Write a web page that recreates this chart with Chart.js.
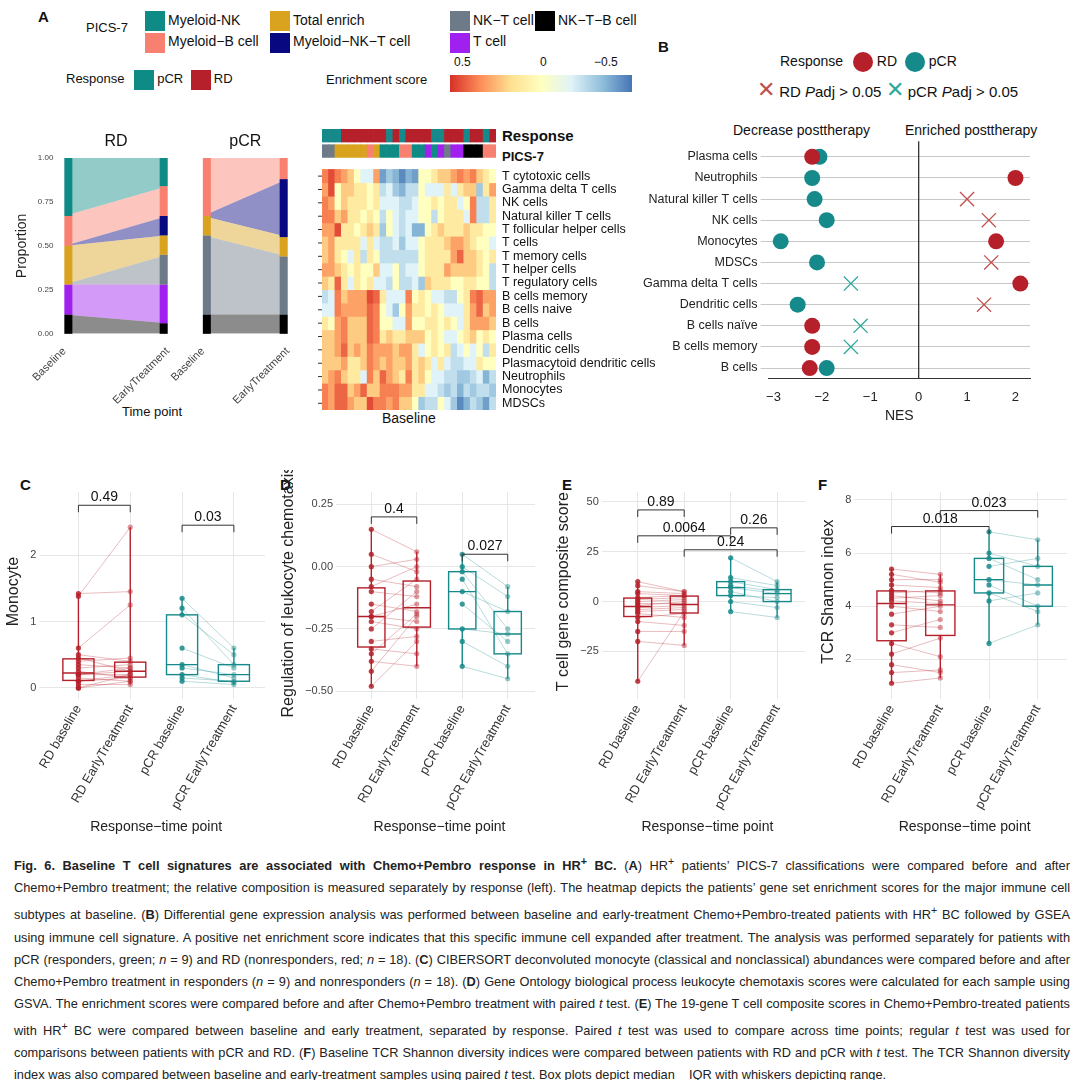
<!DOCTYPE html>
<html><head><meta charset="utf-8">
<script src="https://cdn.jsdelivr.net/npm/chart.js@4"></script>
<style>
body{margin:0;width:1080px;height:1080px;background:#fff;font-family:"Liberation Sans",Arial,sans-serif;position:relative;overflow:hidden}
.c{position:absolute}
.t{position:absolute;white-space:nowrap;color:#111}
.sw{display:inline-block;width:20px;height:20px;vertical-align:middle;margin-right:3px}
.dot{display:inline-block;width:20px;height:20px;border-radius:50%;vertical-align:middle}
#cap{position:absolute;left:14px;top:850px;width:1056px;font-size:12.8px;line-height:22px;color:#222;text-align:justify}
</style></head><body>
<div class="t" style="left:38px;top:8px;font-weight:bold;font-size:15px">A</div>
<div class="t" style="left:86px;top:20px;font-size:13px">PICS-7</div>
<div class="t" style="left:145px;top:10px;font-size:14px;line-height:20px">
<span class="sw" style="background:#0f8b86"></span>Myeloid-NK<br><span class="sw" style="background:#f88070"></span>Myeloid−B cell</div>
<div class="t" style="left:270px;top:10px;font-size:14px;line-height:20px">
<span class="sw" style="background:#d9a21f"></span>Total enrich<br><span class="sw" style="background:#080880"></span>Myeloid−NK−T cell</div>
<div class="t" style="left:450px;top:10px;font-size:14px;line-height:20px">
<span class="sw" style="background:#6d7a88"></span>NK−T cell<br><span class="sw" style="background:#a020f0"></span>T cell</div>
<div class="t" style="left:535px;top:10px;font-size:14px;line-height:20px"><span class="sw" style="background:#000"></span>NK−T−B cell</div>
<div class="t" style="left:66px;top:70px;font-size:13px">Response <span class="sw" style="background:#0f8b86;margin-left:6px"></span>pCR <span class="sw" style="background:#b5202a;margin-left:4px"></span>RD</div>
<div class="t" style="left:326px;top:72px;font-size:13px">Enrichment score</div>
<div class="t" style="left:450px;top:75px;width:182px;height:17px;background:linear-gradient(to right,#d73027,#fc8d59,#fee090,#ffffbf,#e0f3f8,#91bfdb,#4575b4)"></div>
<div class="t" style="left:454px;top:55px;font-size:12px">0.5</div>
<div class="t" style="left:540px;top:55px;font-size:12px">0</div>
<div class="t" style="left:594px;top:55px;font-size:12px">−0.5</div>
<div class="t" style="left:502px;top:127px;font-size:15px;font-weight:bold">Response</div>
<div class="t" style="left:502px;top:149px;font-size:13px;font-weight:bold">PICS-7</div>
<div class="t" style="left:382px;top:410px;font-size:14px">Baseline</div>
<div class="t" style="left:122px;top:404px;font-size:13px">Time point</div>
<div class="t" style="left:658px;top:38px;font-weight:bold;font-size:15px">B</div>
<div class="t" style="left:780px;top:52px;font-size:14px">Response <span class="dot" style="background:#b5202a;margin-left:6px"></span> RD <span class="dot" style="background:#16898a;margin-left:4px"></span> pCR</div>
<div class="t" style="left:757px;top:77px;font-size:15px"><span style="color:#c0504d;font-size:22px">✕</span> RD <i>P</i>adj &gt; 0.05 <span style="color:#2aa99a;font-size:22px">✕</span> pCR <i>P</i>adj &gt; 0.05</div>
<div class="t" style="left:733px;top:122px;font-size:14px">Decrease posttherapy</div>
<div class="t" style="left:905px;top:122px;font-size:14px">Enriched posttherapy</div>
<div class="t" style="left:20px;top:476px;font-weight:bold;font-size:15px">C</div>
<div class="t" style="left:280px;top:476px;font-weight:bold;font-size:15px">D</div>
<div class="t" style="left:562px;top:476px;font-weight:bold;font-size:15px">E</div>
<div class="t" style="left:818px;top:476px;font-weight:bold;font-size:15px">F</div>

<canvas id="aRD" class="c" style="left:10px;top:130px" width="170" height="280"></canvas>
<canvas id="aPCR" class="c" style="left:170px;top:130px" width="130" height="280"></canvas>
<canvas id="hm" class="c" style="left:318px;top:120px" width="400" height="292"></canvas>
<canvas id="pb" class="c" style="left:640px;top:135px" width="430" height="290"></canvas>
<canvas id="pc" class="c" style="left:0px;top:470px" width="275" height="370"></canvas>
<canvas id="pd" class="c" style="left:275px;top:470px" width="270" height="370"></canvas>
<canvas id="pe" class="c" style="left:550px;top:470px" width="265" height="370"></canvas>
<canvas id="pf" class="c" style="left:815px;top:470px" width="262" height="370"></canvas>

<div id="cap"><b>Fig. 6. Baseline T cell signatures are associated with Chemo+Pembro response in HR<sup>+</sup> BC.</b> (<b>A</b>) HR<sup>+</sup> patients’ PICS-7 classifications were compared before and after Chemo+Pembro treatment; the relative composition is measured separately by response (left). The heatmap depicts the patients’ gene set enrichment scores for the major immune cell subtypes at baseline. (<b>B</b>) Differential gene expression analysis was performed between baseline and early-treatment Chemo+Pembro-treated patients with HR<sup>+</sup> BC followed by GSEA using immune cell signature. A positive net enrichment score indicates that this specific immune cell expanded after treatment. The analysis was performed separately for patients with pCR (responders, green; <i>n</i> = 9) and RD (nonresponders, red; <i>n</i> = 18). (<b>C</b>) CIBERSORT deconvoluted monocyte (classical and nonclassical) abundances were compared before and after Chemo+Pembro treatment in responders (<i>n</i> = 9) and nonresponders (<i>n</i> = 18). (<b>D</b>) Gene Ontology biological process leukocyte chemotaxis scores were calculated for each sample using GSVA. The enrichment scores were compared before and after Chemo+Pembro treatment with paired <i>t</i> test. (<b>E</b>) The 19-gene T cell composite scores in Chemo+Pembro-treated patients with HR<sup>+</sup> BC were compared between baseline and early treatment, separated by response. Paired <i>t</i> test was used to compare across time points; regular <i>t</i> test was used for comparisons between patients with pCR and RD. (<b>F</b>) Baseline TCR Shannon diversity indices were compared between patients with RD and pCR with <i>t</i> test. The TCR Shannon diversity index was also compared between baseline and early-treatment samples using paired <i>t</i> test. Box plots depict median &nbsp;&nbsp; IQR with whiskers depicting range.</div>

<script>
// ---------- DATA ----------
const picsCats=["NK−T−B cell","T cell","NK−T cell","Total enrich","Myeloid−NK−T cell","Myeloid−B cell","Myeloid−NK"];
const picsColors=["#000000","#a020f0","#6d7a88","#d9a21f","#080880","#f88070","#0f8b86"];
const rdBaseline=[0.11,0.17,0.0,0.22,0.0,0.17,0.33];
const rdEarly=[0.06,0.22,0.17,0.11,0.11,0.17,0.16];
const pcrBaseline=[0.11,0.0,0.45,0.11,0.0,0.33,0.0];
const pcrEarly=[0.11,0.0,0.33,0.11,0.33,0.12,0.0];
const timeLabels=["Baseline","EarlyTreatment"];

const hmRows=["T cytotoxic cells","Gamma delta T cells","NK cells","Natural killer T cells","T follicular helper cells","T cells","T memory cells","T helper cells","T regulatory cells","B cells memory","B cells naive","B cells","Plasma cells","Dendritic cells","Plasmacytoid dendritic cells","Neutrophils","Monocytes","MDSCs"];
const hmResponse="pppRRRRRRRpRpRRRRppRRRpRRpR".split("");
const hmPics=[2,2,3,3,3,3,3,5,3,6,6,6,5,5,6,6,1,6,1,2,1,1,0,0,0,5,5];
const hmValues=[
[4,6,4,3,2,0,-1,-1,3,-5,-3,-4,-6,-4,-5,0,0,1,2,2,3,4,3,4,2,1,0],
[3,6,0,2,2,1,1,0,1,-2,-1,-3,-4,-2,-2,0,-1,-1,-1,1,-1,1,2,2,-3,1,3],
[4,3,0,2,1,1,1,0,1,-1,-1,-1,-2,-2,-1,0,0,1,0,1,1,-1,0,4,-2,-2,1],
[4,4,2,3,1,1,0,1,0,-2,0,-1,-2,-1,-1,0,0,-2,0,1,1,1,-1,4,-2,-2,1],
[3,3,6,1,1,0,1,2,1,-3,0,-1,-2,-1,-4,-4,0,1,2,1,1,1,2,1,1,0,0],
[2,3,1,1,1,1,-1,1,-1,-2,-2,-1,-3,-1,-1,0,1,1,1,2,3,3,2,1,0,0,-1],
[2,3,1,0,-1,1,-2,1,0,-2,-2,-2,-2,-2,-2,0,1,1,1,1,3,5,2,2,1,0,1],
[3,3,2,1,0,1,0,0,2,-1,-1,0,-2,-1,-1,0,1,1,1,3,2,2,2,2,1,0,-2],
[2,1,5,1,-1,1,0,1,-1,-1,-2,0,-2,-2,-1,-3,2,1,1,1,0,0,1,1,0,0,-2],
[-2,-1,4,2,3,3,3,6,5,1,-1,-1,-1,4,0,1,0,-1,-1,-2,-2,0,1,4,5,3,3],
[-1,-1,4,3,3,3,3,5,4,0,-1,-3,0,3,1,1,0,1,0,-1,-1,-1,1,3,5,2,3],
[1,0,3,4,2,2,2,5,4,0,0,-1,-1,3,0,0,1,1,0,1,0,-1,1,3,3,3,2],
[2,2,3,4,2,2,2,5,4,1,2,1,1,2,2,2,0,1,0,-1,-1,0,1,2,0,1,0],
[2,2,3,5,2,3,2,4,3,3,3,2,3,3,1,-1,0,1,0,1,-2,-1,0,-1,0,-2,1],
[2,2,2,3,1,1,2,4,3,2,3,2,2,3,1,2,1,-1,1,-1,-2,-2,-1,-1,1,0,0],
[2,3,4,2,1,1,-1,4,2,5,3,2,1,4,1,2,0,-1,-1,-2,-2,-3,-3,-2,-1,-4,-2],
[4,3,5,5,2,3,5,2,2,4,4,4,3,3,1,1,-1,-1,-2,-3,-2,-4,-2,-3,-2,-2,-3],
[4,3,5,5,3,2,2,6,4,4,3,4,2,2,0,-3,-2,-2,0,-1,-3,-6,-4,-2,-3,-5,-2]];

const nesCells=["Plasma cells","Neutrophils","Natural killer T cells","NK cells","Monocytes","MDSCs","Gamma delta T cells","Dendritic cells","B cells naïve","B cells memory","B cells"];
const nesRD=[-2.2,2.0,1.0,1.45,1.6,1.5,2.1,1.35,-2.2,-2.2,-2.25];
const rdSig=[1,1,0,0,1,0,1,0,1,1,1];
const nesPCR=[-2.05,-2.2,-2.15,-1.9,-2.85,-2.1,-1.4,-2.5,-1.2,-1.4,-1.9];
const pcrSig=[1,1,1,1,1,1,0,1,0,0,1];
const nesTicks=[-3,-2,-1,0,1,2];

const groupLabels=["RD baseline","RD EarlyTreatment","pCR baseline","pCR EarlyTreatment"];
const monoRDb=[0,0,0.05,0.1,0.1,0.15,0.2,0.2,0.2,0.25,0.3,0.35,0.4,0.45,0.5,0.6,1.38,1.42];
const monoRDe=[0.1,0.2,0.05,0.15,0.2,0.1,0.25,0.3,0.2,0.15,0.35,0.3,0.45,0.25,0.4,1.25,2.42,1.45];
const monoPb=[0.1,0.15,0.2,0.3,0.35,0.6,1.1,1.2,1.35];
const monoPe=[0.05,0.1,0.08,0.2,0.15,0.3,0.5,0.35,0.6];
const chemRDb=[-0.48,-0.42,-0.38,-0.35,-0.33,-0.3,-0.25,-0.22,-0.2,-0.2,-0.18,-0.15,-0.1,-0.08,-0.05,0.0,0.05,0.15];
const chemRDe=[-0.3,-0.2,-0.4,-0.19,-0.35,-0.28,-0.1,-0.25,-0.15,-0.22,-0.05,-0.18,-0.12,0.0,-0.08,0.03,-0.02,0.06];
const chemPb=[-0.4,-0.3,-0.25,-0.15,-0.1,-0.05,-0.02,0.0,0.05];
const chemPe=[-0.45,-0.4,-0.27,-0.3,-0.18,-0.35,-0.25,-0.12,-0.08];
const tcRDb=[-40,-20,-15,-10,-8,-6,-5,-4,-3,-2,-1,0,1,2,4,5,8,10];
const tcRDe=[-5,-22,-15,-12,-6,-8,-4,-3,-2,0,-1,1,2,3,3,4,5,5];
const tcPb=[-5,0,3,5,7,8,10,12,22];
const tcPe=[-8,-3,2,0,4,5,6,8,10];
const shRDb=[1.1,1.5,1.8,2.2,2.6,3.0,3.3,3.7,4.0,4.2,4.3,4.4,4.5,4.6,4.8,5.0,5.2,5.4];
const shRDe=[1.3,1.6,1.5,2.8,2.1,3.5,3.2,4.0,3.8,4.1,4.4,4.2,4.6,4.5,4.7,5.0,4.9,5.2];
const shPb=[2.6,4.2,4.5,4.8,5.0,5.5,5.8,6.0,6.8];
const shPe=[3.3,4.5,3.8,4.0,4.8,5.8,5.0,5.5,6.5];
const cTicks=[0,1,2], dTicks=[-0.5,-0.25,0,0.25], eTicks=[-25,0,25,50], fTicks=[2,4,6,8];
const cBr=[[0,1,2.75,"0.49"],[2,3,2.45,"0.03"]];
const dBr=[[0,1,0.2,"0.4"],[2,3,0.05,"0.027"]];
const eBr=[[0,1,46,"0.89"],[0,2,33,"0.0064"],[2,3,37,"0.26"],[1,3,26,"0.24"]];
const fBr=[[0,2,7.0,"0.018"],[1,3,7.6,"0.023"]];

// ---------- HELPERS ----------
const RD="#b5202a",PC="#16898a";
Chart.defaults.font.family='"Liberation Sans",Arial,sans-serif';
Chart.defaults.color="#333";
Chart.defaults.animation=false;
const minus=v=>(v<0?'−':'')+Math.abs(v);
function hmColor(v){
  const stops=[[-0.7,[69,117,180]],[-0.35,[145,191,219]],[-0.1,[224,243,248]],[0,[255,255,191]],[0.15,[254,224,144]],[0.35,[252,141,89]],[0.7,[215,48,39]]];
  v=Math.max(-0.7,Math.min(0.7,v));
  for(let i=0;i<stops.length-1;i++){const [a,ca]=stops[i],[b,cb]=stops[i+1];
    if(v<=b){const t=(v-a)/(b-a);return `rgb(${ca.map((c,k)=>Math.round(c+(cb[k]-c)*t)).join(",")})`;}}
  return "rgb(215,48,39)";
}
function alpha(hex,a){const n=parseInt(hex.slice(1),16);return `rgba(${n>>16},${(n>>8)&255},${n&255},${a})`;}

// ---------- ALLUVIAL ----------
function alluvial(id,title,b,e,showY){
  const ds=b.map((v,i)=>({data:[{x:0,y:v},{x:1,y:e[i]}],backgroundColor:alpha(picsColors[i],0.45),borderWidth:0,pointRadius:0,fill:i===0?'origin':'-1',tension:0}));
  new Chart(document.getElementById(id),{type:'line',data:{datasets:ds},
    options:{responsive:false,layout:{padding:{top:28,right:4}},plugins:{legend:{display:false},tooltip:{enabled:false}},
      scales:{x:{type:'linear',min:0,max:1,offset:false,grid:{display:false},border:{display:false},
          afterBuildTicks:a=>{a.ticks=[{value:0},{value:1}]},ticks:{callback:v=>timeLabels[v],minRotation:45,maxRotation:45,font:{size:11},color:'#444'}},
        y:{stacked:true,min:0,max:1,display:showY,grid:{display:false},border:{display:false},ticks:{stepSize:0.25,callback:v=>v.toFixed(2),font:{size:8},color:'#444'},
          title:{display:true,text:'Proportion',font:{size:14},color:'#222'}}}},
    plugins:[{id:'ends',afterDatasetsDraw(c){const x=c.scales.x,y=c.scales.y,ctx=c.ctx;
      const draw=(arr,px,w)=>{let cum=0;arr.forEach((v,i)=>{if(v>0){ctx.fillStyle=picsColors[i];const t=y.getPixelForValue(cum+v),bo=y.getPixelForValue(cum);ctx.fillRect(px,t,w,bo-t);}cum+=v;});};
      draw(b,x.getPixelForValue(0),8);draw(e,x.getPixelForValue(1)-8,8);
      ctx.fillStyle='#111';ctx.font='16px "Liberation Sans"';ctx.textAlign='center';ctx.fillText(title,(c.chartArea.left+c.chartArea.right)/2,16);
    }}]});
}
alluvial('aRD','RD',rdBaseline,rdEarly,true);
alluvial('aPCR','pCR',pcrBaseline,pcrEarly,false);

// ---------- HEATMAP ----------
(function(){
  const cols=hmResponse.map((_,i)=>i);
  const ds=hmRows.map((r,i)=>({data:cols.map(()=>[hmRows.length-1-i,hmRows.length-i]),backgroundColor:hmValues[i].map(v=>hmColor(v/10)),borderWidth:0}));
  ds.push({data:cols.map(()=>[18.9,19.85]),backgroundColor:hmPics.map(p=>picsColors[p]),borderWidth:0});
  ds.push({data:cols.map(()=>[20.05,21.0]),backgroundColor:hmResponse.map(r=>r==='p'?PC:RD),borderWidth:0});
  new Chart(document.getElementById('hm'),{type:'bar',data:{labels:cols,datasets:ds},
    options:{responsive:false,layout:{padding:{left:4,right:222,top:8,bottom:2}},plugins:{legend:{display:false},tooltip:{enabled:false}},
      scales:{x:{display:false},y:{display:false,min:0,max:21.1}},
      datasets:{bar:{grouped:false,barPercentage:1,categoryPercentage:1}}},
    plugins:[{id:'lab',afterDatasetsDraw(c){const y=c.scales.y,ctx=c.ctx;ctx.fillStyle='#111';ctx.font='12.5px "Liberation Sans"';ctx.textBaseline='middle';
      hmRows.forEach((r,i)=>{const yy=y.getPixelForValue(hmRows.length-0.5-i);ctx.fillText(r,c.chartArea.right+6,yy);
        ctx.strokeStyle='#333';ctx.beginPath();ctx.moveTo(c.chartArea.left-4,yy);ctx.lineTo(c.chartArea.left,yy);ctx.stroke();});}}]});
})();

// ---------- PANEL B ----------
(function(){
  const mk=(vals,sig,want,col,style,r)=>({data:vals.map((v,i)=>sig[i]===want?{x:v,y:nesCells[i]}:null).filter(Boolean),
    pointStyle:style,pointRadius:r,backgroundColor:col,borderColor:col,borderWidth:style==='circle'?0:1.3,showLine:false});
  new Chart(document.getElementById('pb'),{type:'scatter',data:{datasets:[
      mk(nesPCR,pcrSig,0,'#2aa99a','crossRot',10),mk(nesRD,rdSig,0,'#c0504d','crossRot',10),
      mk(nesRD,rdSig,1,RD,'circle',8),mk(nesPCR,pcrSig,1,PC,'circle',8)]},
    options:{responsive:false,layout:{padding:{right:40}},plugins:{legend:{display:false},tooltip:{enabled:false}},
      scales:{x:{type:'linear',min:-3.1,max:2.3,grid:{display:false},border:{color:'#333'},afterBuildTicks:a=>{a.ticks=nesTicks.map(v=>({value:v}))},
          ticks:{callback:minus,font:{size:13},color:'#222'},title:{display:true,text:'NES',font:{size:14},color:'#222',padding:0}},
        y:{type:'category',labels:nesCells,offset:true,grid:{color:'#c8c8c8'},border:{display:false},ticks:{font:{size:12.5},color:'#222'}}}},
    plugins:[{id:'zero',beforeDatasetsDraw(c){const x=c.scales.x.getPixelForValue(0),ctx=c.ctx;ctx.strokeStyle='#333';ctx.lineWidth=1.3;ctx.beginPath();ctx.moveTo(x,c.chartArea.top-5);ctx.lineTo(x,c.chartArea.bottom);ctx.stroke();}}]});
})();

// ---------- BOX PANELS ----------
function q(a,p){const s=[...a].sort((x,y)=>x-y),i=(s.length-1)*p,lo=Math.floor(i),hi=Math.ceil(i);return s[lo]+(s[hi]-s[lo])*(i-lo);}
function boxPanel(id,groups,yTitle,ymin,ymax,ticks,brackets,fmt){
  const cols=[RD,RD,PC,PC];const ds=[];
  for(let k=0;k<groups[0].length;k++)ds.push({type:'line',data:[{x:0,y:groups[0][k]},{x:1,y:groups[1][k]}],borderColor:alpha(RD,0.3),borderWidth:1,pointRadius:0});
  for(let k=0;k<groups[2].length;k++)ds.push({type:'line',data:[{x:2,y:groups[2][k]},{x:3,y:groups[3][k]}],borderColor:alpha(PC,0.3),borderWidth:1,pointRadius:0});
  groups.forEach((g,gi)=>ds.push({data:g.map(v=>({x:gi,y:v})),backgroundColor:alpha(cols[gi],gi%2?0.45:0.85),pointRadius:2.6,borderWidth:0}));
  new Chart(document.getElementById(id),{type:'scatter',data:{datasets:ds},
    options:{responsive:false,layout:{padding:{top:22,right:10}},plugins:{legend:{display:false},tooltip:{enabled:false}},
      scales:{x:{type:'linear',min:-0.6,max:3.6,grid:{color:'#e6e6e6'},border:{display:false},afterBuildTicks:a=>{a.ticks=[0,1,2,3].map(v=>({value:v}))},
          ticks:{callback:v=>groupLabels[v],minRotation:60,maxRotation:60,font:{size:13},color:'#333'},title:{display:true,text:'Response−time point',font:{size:14},color:'#222'}},
        y:{min:ymin,max:ymax,grid:{color:'#e6e6e6'},border:{display:false},afterBuildTicks:a=>{a.ticks=ticks.map(v=>({value:v}))},ticks:{callback:fmt,font:{size:11},color:'#444'},
          title:{display:true,text:yTitle,font:{size:16},color:'#222'}}}},
    plugins:[{id:'boxes',beforeDatasetsDraw(c){const x=c.scales.x,y=c.scales.y,ctx=c.ctx;
      groups.forEach((g,gi)=>{const col=cols[gi],x0=x.getPixelForValue(gi-0.3),x1=x.getPixelForValue(gi+0.3),xm=x.getPixelForValue(gi);
        const [mn,q1,md,q3,mx]=[0,0.25,0.5,0.75,1].map(p=>y.getPixelForValue(q(g,p)));
        ctx.strokeStyle=col;ctx.lineWidth=1.4;ctx.fillStyle='rgba(255,255,255,0.6)';
        ctx.fillRect(x0,q3,x1-x0,q1-q3);ctx.strokeRect(x0,q3,x1-x0,q1-q3);
        ctx.beginPath();ctx.moveTo(xm,q3);ctx.lineTo(xm,mx);ctx.moveTo(xm,q1);ctx.lineTo(xm,mn);ctx.moveTo(x0,md);ctx.lineTo(x1,md);ctx.stroke();});},
      afterDatasetsDraw(c){const x=c.scales.x,y=c.scales.y,ctx=c.ctx;ctx.strokeStyle='#333';ctx.lineWidth=1;ctx.fillStyle='#111';ctx.font='14px "Liberation Sans"';ctx.textAlign='center';
        brackets.forEach(([a,b,v,l])=>{const xa=x.getPixelForValue(a),xb=x.getPixelForValue(b),yy=y.getPixelForValue(v);
          ctx.beginPath();ctx.moveTo(xa,yy+7);ctx.lineTo(xa,yy);ctx.lineTo(xb,yy);ctx.lineTo(xb,yy+7);ctx.stroke();ctx.fillText(l,(xa+xb)/2,yy-4);});}}]});
}
boxPanel('pc',[monoRDb,monoRDe,monoPb,monoPe],'Monocyte',-0.05,2.95,cTicks,cBr,v=>v);
boxPanel('pd',[chemRDb,chemRDe,chemPb,chemPe],'Regulation of leukocyte chemotaxis',-0.5,0.3,dTicks,dBr,v=>(v<0?'−':'')+Math.abs(v).toFixed(2));
boxPanel('pe',[tcRDb,tcRDe,tcPb,tcPe],'T cell gene composite score',-45,55,eTicks,eBr,minus);
boxPanel('pf',[shRDb,shRDe,shPb,shPe],'TCR Shannon index',0.8,8.3,fTicks,fBr,v=>v);
</script>
</body></html>
